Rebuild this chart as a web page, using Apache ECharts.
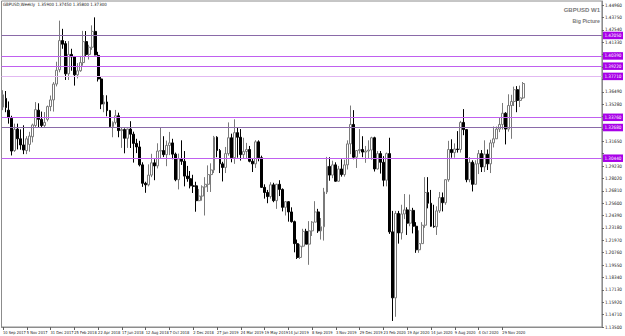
<!DOCTYPE html>
<html><head><meta charset="utf-8">
<script src="https://cdn.jsdelivr.net/npm/echarts@6/dist/echarts.min.js"></script>
<style>html,body{margin:0;padding:0;background:#fff;}#c{width:625px;height:336px;}</style>
</head><body><div id="c"></div>
<script>
// Weekly bars, first week starting 10 Sep 2017. Rows: [open, high, low, close]
const ohlc2017 = [
[1.3500,1.3665,1.3470,1.3620],[1.3585,1.3657,1.3450,1.3495],[1.3470,1.3555,1.3338,1.3397],[1.3390,1.3415,1.3027,1.3070],
[1.3075,1.3338,1.3062,1.3283],[1.3285,1.3338,1.3086,1.3190],[1.3190,1.3282,1.3083,1.3130],[1.3130,1.3322,1.3040,1.3080],
[1.3075,1.3215,1.3040,1.3190],[1.3135,1.3258,1.3064,1.3217],[1.3210,1.3338,1.3155,1.3325],[1.3320,1.3549,1.3300,1.3475],
[1.3470,1.3537,1.3300,1.3380],[1.3380,1.3456,1.3300,1.3320],[1.3320,1.3451,1.3300,1.3350],[1.3380,1.3515,1.3360,1.3505],
[1.3505,1.3613,1.3460,1.3570]
];
const ohlc2018 = [
[1.3570,1.3744,1.3456,1.3725],[1.3725,1.3943,1.3702,1.3860],[1.3865,1.4345,1.3840,1.4150],[1.4150,1.4265,1.4070,1.4115],
[1.4120,1.4145,1.3765,1.3825],[1.3825,1.4145,1.3765,1.4015],[1.4015,1.4070,1.3855,1.3990],[1.3990,1.4000,1.3710,1.3815],
[1.3815,1.3930,1.3780,1.3855],[1.3855,1.4000,1.3845,1.3935],[1.3935,1.4245,1.3905,1.4140],[1.4140,1.4243,1.4000,1.4015],
[1.4015,1.4109,1.3965,1.4085],[1.4085,1.4299,1.4060,1.4240],[1.4240,1.4377,1.4006,1.4010],[1.4005,1.4040,1.3750,1.3775],
[1.3775,1.3800,1.3480,1.3530],[1.3530,1.3617,1.3450,1.3550],[1.3550,1.3615,1.3410,1.3465],[1.3465,1.3472,1.3305,1.3310],
[1.3310,1.3360,1.3205,1.3350],[1.3350,1.3472,1.3330,1.3415],[1.3415,1.3445,1.3205,1.3270],[1.3270,1.3305,1.3101,1.3280],
[1.3280,1.3292,1.3048,1.3195],[1.3195,1.3290,1.3101,1.3285],[1.3285,1.3362,1.3100,1.3235],[1.3235,1.3260,1.2957,1.3145],
[1.3145,1.3190,1.3050,1.3110],[1.3110,1.3170,1.2920,1.2935],[1.2935,1.2960,1.2720,1.2755],[1.2755,1.2770,1.2662,1.2740],
[1.2740,1.2940,1.2725,1.2835],[1.2835,1.3043,1.2815,1.2955],[1.2955,1.2990,1.2785,1.2925],[1.2925,1.3146,1.2900,1.3070],
[1.3070,1.3298,1.3000,1.3075],[1.3075,1.3215,1.3011,1.3035],[1.3035,1.3172,1.2922,1.3125],[1.3125,1.3257,1.3030,1.3150],
[1.3150,1.3190,1.2990,1.3040],[1.3040,1.3055,1.2775,1.2790],[1.2790,1.3045,1.2695,1.2995],[1.2995,1.3175,1.2935,1.2970],
[1.2970,1.3070,1.2725,1.2825],[1.2825,1.2925,1.2770,1.2800],[1.2800,1.2875,1.2705,1.2730],[1.2730,1.2838,1.2660,1.2725],
[1.2730,1.2770,1.2477,1.2585],[1.2585,1.2700,1.2580,1.2630],[1.2630,1.2735,1.2585,1.2720],[1.2720,1.2815,1.2440,1.2745]
];
const ohlc2019 = [
[1.2745,1.2930,1.2670,1.2840],[1.2840,1.2950,1.2670,1.2885],[1.2885,1.3218,1.2855,1.3205],[1.3205,1.3215,1.3010,1.3075],
[1.3075,1.3090,1.2855,1.2945],[1.2945,1.2965,1.2773,1.2910],[1.2910,1.3110,1.2855,1.3045],[1.3045,1.3350,1.3025,1.3200],
[1.3200,1.3240,1.2960,1.3005],[1.3005,1.3380,1.2945,1.3250],[1.3250,1.3305,1.3005,1.3205],[1.3205,1.3285,1.2977,1.3035],
[1.3035,1.3200,1.3000,1.3065],[1.3065,1.3150,1.3000,1.3085],[1.3085,1.3120,1.2960,1.2970],[1.2970,1.3000,1.2865,1.2945],
[1.2945,1.3176,1.2905,1.3160],[1.3160,1.3175,1.2970,1.3005],[1.3005,1.3025,1.2710,1.2715],[1.2715,1.2745,1.2605,1.2665],
[1.2665,1.2690,1.2560,1.2625],[1.2625,1.2765,1.2605,1.2740],[1.2740,1.2760,1.2570,1.2585],[1.2585,1.2750,1.2505,1.2745],
[1.2745,1.2785,1.2630,1.2695],[1.2695,1.2705,1.2480,1.2520],[1.2520,1.2580,1.2440,1.2575],[1.2575,1.2580,1.2380,1.2475],
[1.2475,1.2520,1.2370,1.2380],[1.2380,1.2390,1.2080,1.2165],[1.2165,1.2205,1.2015,1.2030],[1.2030,1.2160,1.2015,1.2140],
[1.2140,1.2310,1.2130,1.2285],[1.2285,1.2310,1.2160,1.2160],[1.2160,1.2385,1.1958,1.2290],[1.2290,1.2385,1.2240,1.2375],
[1.2375,1.2580,1.2375,1.2475],[1.2475,1.2505,1.2270,1.2290],[1.2290,1.2415,1.2205,1.2330],[1.2330,1.2710,1.2195,1.2670],
[1.2670,1.3013,1.2650,1.2920],[1.2920,1.3010,1.2780,1.2835],[1.2835,1.2976,1.2805,1.2935],[1.2935,1.2960,1.2770,1.2775],
[1.2775,1.2925,1.2770,1.2895],[1.2895,1.2990,1.2820,1.2840],[1.2840,1.2985,1.2820,1.2935],[1.2935,1.3175,1.2890,1.3140],
[1.3140,1.3515,1.3040,1.3330],[1.3330,1.3470,1.2990,1.3010],[1.3010,1.3070,1.2905,1.3075],[1.3075,1.3285,1.3045,1.3085]
];
const ohlc2020 = [
[1.3085,1.3215,1.3010,1.3060],[1.3060,1.3120,1.2955,1.3070],[1.3070,1.3175,1.3000,1.3080],[1.3080,1.3210,1.2985,1.3200],
[1.3200,1.3210,1.2870,1.2895],[1.2895,1.3070,1.2890,1.3045],[1.3045,1.3070,1.2850,1.2960],[1.2960,1.3020,1.2725,1.2785],
[1.2785,1.3055,1.2725,1.3045],[1.3045,1.3200,1.2260,1.2280],[1.2280,1.2485,1.1409,1.1635],[1.1635,1.2485,1.1450,1.2460],
[1.2460,1.2485,1.2165,1.2270],[1.2270,1.2545,1.2205,1.2455],[1.2455,1.2650,1.2405,1.2495],[1.2495,1.2520,1.2250,1.2365],
[1.2365,1.2645,1.2335,1.2490],[1.2490,1.2515,1.2265,1.2335],[1.2335,1.2375,1.2075,1.2105],[1.2105,1.2295,1.2075,1.2165],
[1.2165,1.2375,1.2165,1.2345],[1.2345,1.2815,1.2320,1.2665],[1.2665,1.2815,1.2510,1.2560],[1.2560,1.2690,1.2330,1.2335],
[1.2335,1.2545,1.2320,1.2330],[1.2330,1.2530,1.2250,1.2485],[1.2485,1.2670,1.2465,1.2615],[1.2615,1.2665,1.2480,1.2565],
[1.2565,1.2795,1.2545,1.2790],[1.2790,1.3170,1.2770,1.3085],[1.3085,1.3185,1.3005,1.3055],[1.3055,1.3145,1.3005,1.3090],
[1.3090,1.3265,1.3055,1.3085],[1.3085,1.3365,1.3055,1.3350],[1.3350,1.3480,1.3225,1.3280],[1.3280,1.3285,1.2765,1.2790],
[1.2790,1.3010,1.2765,1.2960],[1.2960,1.2980,1.2675,1.2745],[1.2745,1.2980,1.2745,1.2945],[1.2945,1.3080,1.2845,1.3045],
[1.3045,1.3080,1.2865,1.2915],[1.2915,1.3175,1.2865,1.3040],[1.3040,1.3085,1.2885,1.2945],[1.2945,1.3180,1.2855,1.3150],
[1.3150,1.3310,1.3105,1.3190],[1.3190,1.3310,1.3190,1.3285],[1.3285,1.3400,1.3255,1.3330],[1.3330,1.3540,1.3280,1.3440],
[1.3440,1.3450,1.3135,1.3285],[1.3285,1.3625,1.3260,1.3515],[1.3515,1.3620,1.3190,1.3555],[1.3555,1.3700,1.3510,1.3670]
];
const ohlc2021 = [
[1.3670,1.3705,1.3450,1.3565],[1.3565,1.3710,1.3500,1.3590],[1.3590,1.3745,1.3580,1.3730]
];
const firstWeek = '2017-09-10';
const totalSlots = 202;            // bars + empty space on the right
const xLabelEvery = 8;
const yTickValues = [1.13500,1.14710,1.15920,1.17130,1.18340,1.19550,1.20760,1.21970,1.23180,1.24390,1.25600,1.26810,
  1.28020,1.29230,1.30440,1.31650,1.32860,1.34070,1.35280,1.36490,1.37700,1.38910,1.40120,1.41330,1.42540,1.43750,1.44960];
const yHiddenLabels = [1.30440, 1.37700];   // fully covered by level boxes in the reference
const levelPrices = [1.42050,1.40390,1.39220,1.37710,1.33760,1.32680,1.30440];
const levelColors = ['#8a6aa8','#c060f0','#c060f0','#e2b8f2','#c060f0','#8a6aa8','#c060f0'];
const headerText = 'GBPUSD,Weekly  1.35900 1.37450 1.35800 1.37300';

const bars = [].concat(ohlc2017, ohlc2018, ohlc2019, ohlc2020, ohlc2021);
const months = ['Jan','Feb','Mar','Apr','May','Jun','Jul','Aug','Sep','Oct','Nov','Dec'];
const cats = [];
const d0 = new Date(firstWeek + 'T00:00:00Z');
for (let i = 0; i < totalSlots; i++) {
  const d = new Date(d0.getTime() + i * 7 * 86400000);
  cats.push(d.getUTCDate() + ' ' + months[d.getUTCMonth()] + ' ' + d.getUTCFullYear());
}
const candleData = bars.map(b => [b[0], b[3], b[2], b[1]]);
const lastClose = bars[bars.length - 1][3];
const yLabelValues = yTickValues.filter(v => yHiddenLabels.indexOf(v) < 0);

const chart = echarts.init(document.getElementById('c'), null, {renderer: 'svg'});
const FONT = "'Liberation Sans Narrow', 'DejaVu Sans Condensed', sans-serif";
const FS = 4.6;
chart.setOption({
  animation: false,
  backgroundColor: '#ffffff',
  grid: {left: 1, right: 18, top: 1, bottom: 9, show: true, borderColor: '#8c8c8c', borderWidth: 1},
  xAxis: {
    type: 'category', data: cats, boundaryGap: true,
    axisLine: {show: true, lineStyle: {color: '#8c8c8c', width: 1}},
    axisTick: {show: true, alignWithLabel: true, length: 3, interval: (i) => i % xLabelEvery === 0 && i < bars.length, lineStyle: {color: '#606060'}},
    axisLabel: {show: true, interval: (i) => i % xLabelEvery === 0 && i < bars.length, align: 'left', margin: 3,
      showMinLabel: true, showMaxLabel: true, hideOverlap: false,
      fontSize: 4.0, fontFamily: FONT, color: '#202020'},
    splitLine: {show: false}
  },
  yAxis: {
    type: 'value', position: 'right', min: 1.1350, max: 1.4537, scale: true,
    axisLine: {show: true, lineStyle: {color: '#8c8c8c', width: 1}},
    axisTick: {show: true, length: 2, customValues: yTickValues, lineStyle: {color: '#606060'}},
    axisLabel: {show: true, customValues: yLabelValues, margin: 3, fontSize: FS, fontFamily: FONT, color: '#202020',
      formatter: (v) => v.toFixed(5)},
    splitLine: {show: false}
  },
  graphic: [
    {type: 'text', left: 3, top: 2, style: {text: headerText, fontSize: 4.4, fontFamily: FONT, fill: '#202020'}},
    {type: 'text', right: 25, top: 7, style: {text: 'GBPUSD W1', fontSize: 6, fontWeight: 'bold', fontFamily: "'Liberation Sans', sans-serif", fill: '#7a7a7a', align: 'right'}},
    {type: 'text', right: 25, top: 18, style: {text: 'Big Picture', fontSize: 5.2, fontWeight: 'bold', fontFamily: "'Liberation Sans', sans-serif", fill: '#7a7a7a', align: 'right'}}
  ],
  series: [{
    type: 'candlestick',
    data: candleData,
    barWidth: 2.4,
    itemStyle: {color: '#ffffff', color0: '#000000', borderColor: '#7a7a7a', borderColor0: '#000000', borderWidth: 1},
    markLine: {
      silent: true, symbol: ['none', 'none'], animation: false,
      data: levelPrices.map((p, i) => ({
        yAxis: p,
        lineStyle: {color: levelColors[i], width: 1, type: 'solid'},
        label: {show: true, position: 'end', distance: 1, formatter: p.toFixed(5), fontSize: FS, fontFamily: FONT,
          color: '#ffffff', backgroundColor: '#a800e8', padding: [1.5, 1.5, 1, 1.5]}
      })).concat([{
        yAxis: lastClose,
        lineStyle: {opacity: 0},
        label: {show: true, position: 'end', distance: 1, formatter: lastClose.toFixed(5), fontSize: FS, fontFamily: FONT,
          color: '#ffffff', backgroundColor: '#000000', padding: [1.5, 1.5, 1, 1.5]}
      }])
    }
  }]
});
</script></body></html>
